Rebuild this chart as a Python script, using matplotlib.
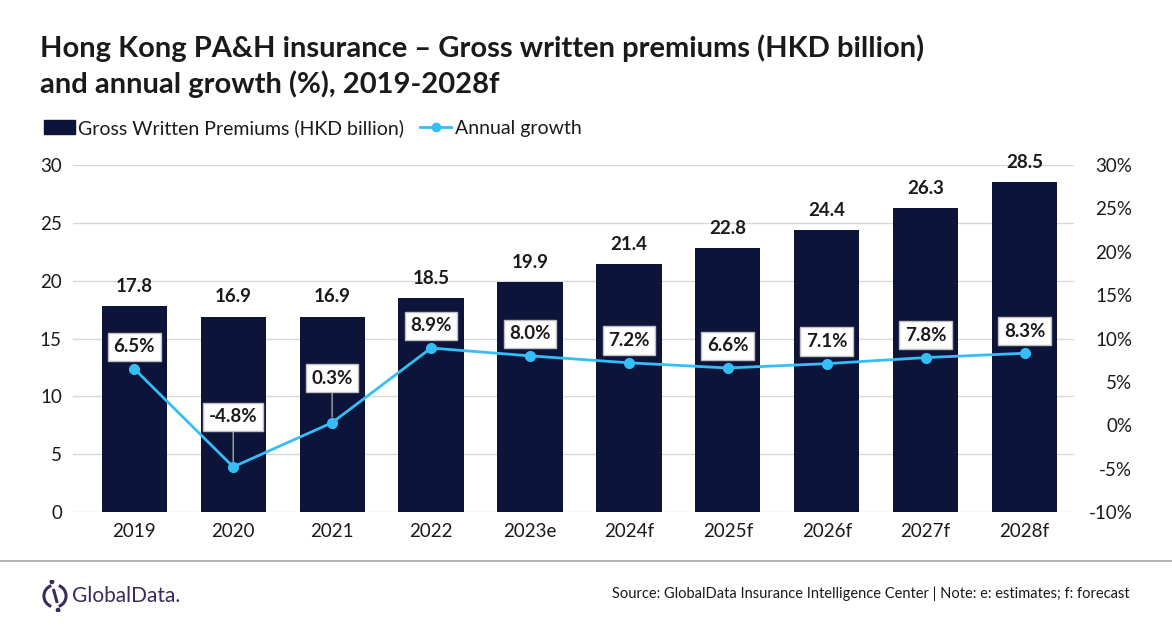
import matplotlib.pyplot as plt
from matplotlib.patches import Arc, Circle
from matplotlib.lines import Line2D
from matplotlib.ticker import FuncFormatter

plt.rcParams['font.family'] = ['Lato', 'DejaVu Sans']

years = ['2019', '2020', '2021', '2022', '2023e', '2024f', '2025f', '2026f', '2027f', '2028f']
premiums = [17.8, 16.9, 16.9, 18.5, 19.9, 21.4, 22.8, 24.4, 26.3, 28.5]
growth = [6.5, -4.8, 0.3, 8.9, 8.0, 7.2, 6.6, 7.1, 7.8, 8.3]
growth_label_offset = [16, 36, 32, 16, 16, 16, 16, 16, 16, 16]

navy = '#0C1539'
blue = '#35BDF8'
txt = '#1A1A1A'

fig = plt.figure(figsize=(11.72, 6.28), dpi=100)
ax = fig.add_axes([73 / 1172, 1 - 512 / 628, 1001 / 1172, 347 / 628])
ax2 = ax.twinx()

x = list(range(len(years)))
ax.bar(x, premiums, width=0.66, color=navy, zorder=2)
ax.set_xlim(-0.62, 9.5)
ax.set_ylim(0, 30)
ax.set_yticks(range(0, 31, 5))
ax.grid(axis='y', color='#D9D9D9', linewidth=1, zorder=0)
ax.set_axisbelow(True)
ax.set_xticks(x)
ax.set_xticklabels(years)
for s in ax.spines.values():
    s.set_visible(False)
for s in ax2.spines.values():
    s.set_visible(False)
ax.tick_params(axis='x', length=0, labelsize=13.5, colors=txt, pad=8)
ax.tick_params(axis='y', length=0, labelsize=13.5, colors=txt, pad=8)

for xi, v in zip(x, premiums):
    ax.annotate(f'{v:.1f}', (xi, v), xytext=(0, 8), textcoords='offset points',
                ha='center', va='bottom', fontsize=13.5, fontweight='bold', color=txt)

ax2.set_ylim(-10, 30)
ax2.set_yticks(range(-10, 31, 5))
ax2.yaxis.set_major_formatter(FuncFormatter(lambda v, p: f'{v:.0f}%'))
ax2.tick_params(axis='y', length=0, labelsize=13.5, colors=txt, pad=42)
for lbl in ax2.get_yticklabels():
    lbl.set_horizontalalignment('right')
ax2.plot(x, growth, color=blue, linewidth=2, marker='o', markersize=7, zorder=3)

for xi, g, off in zip(x, growth, growth_label_offset):
    arrow = None
    if off > 20:
        arrow = dict(arrowstyle='-', color='#A6A6A6', linewidth=1, shrinkA=0, shrinkB=4)
    ax2.annotate(f'{g:.1f}%', (xi, g), xytext=(0, off), textcoords='offset points',
                 ha='center', va='center', fontsize=13.5, fontweight='bold', color=txt,
                 bbox=dict(boxstyle='square,pad=0.3', fc='white', ec='#BFBFBF', lw=1),
                 arrowprops=arrow, zorder=5)

# title
fig.text(40 / 1172, 1 - 48 / 628, 'Hong Kong PA&H insurance \u2013 Gross written premiums (HKD billion)',
         fontsize=21, fontweight='bold', color=txt, va='center')
fig.text(40 / 1172, 1 - 84 / 628, 'and annual growth (%), 2019-2028f',
         fontsize=21, fontweight='bold', color=txt, va='center')

# legend
handles = [plt.Rectangle((0, 0), 1, 1, color=navy),
           Line2D([0], [0], color=blue, lw=2, marker='o', markersize=6)]
fig.legend(handles, ['Gross Written Premiums (HKD billion)', 'Annual growth'],
           loc='center left', bbox_to_anchor=(26 / 1172, 1 - 128 / 628), ncol=2,
           frameon=False, fontsize=14, handlelength=1.6, handletextpad=0.2,
           columnspacing=0.8, labelcolor=txt)

# bottom separator
fig.add_artist(Line2D([0, 1], [1 - 561 / 628, 1 - 561 / 628], color='#A6A6A6', lw=1.2))

# logo
purple = '#3B2A5C'
lax = fig.add_axes([40 / 1172, 1 - 612 / 628, 30 / 1172, 32 / 628])
lax.set_xlim(-1.2, 1.2)
lax.set_ylim(-1.3, 1.3)
lax.set_aspect('equal')
lax.axis('off')
lax.add_patch(Arc((0, 0), 1.8, 1.8, theta1=110, theta2=250, color=purple, lw=2.2))
lax.add_patch(Arc((0, 0), 1.8, 1.8, theta1=290, theta2=70, color=purple, lw=2.2))
lax.plot([-0.1, 0.15], [0.45, -0.45], color=purple, lw=2.2)
lax.add_patch(Circle((-0.25, 1.15), 0.14, color=purple))
lax.add_patch(Circle((0.25, -1.15), 0.14, color=purple))
fig.text(72 / 1172, 1 - 596 / 628, 'GlobalData.', fontsize=15, color=purple, va='center')

fig.text(1130 / 1172, 1 - 594 / 628,
         'Source: GlobalData Insurance Intelligence Center | Note: e: estimates; f: forecast',
         fontsize=10.5, color=txt, ha='right', va='center')

fig.savefig('out.png', dpi=100)
